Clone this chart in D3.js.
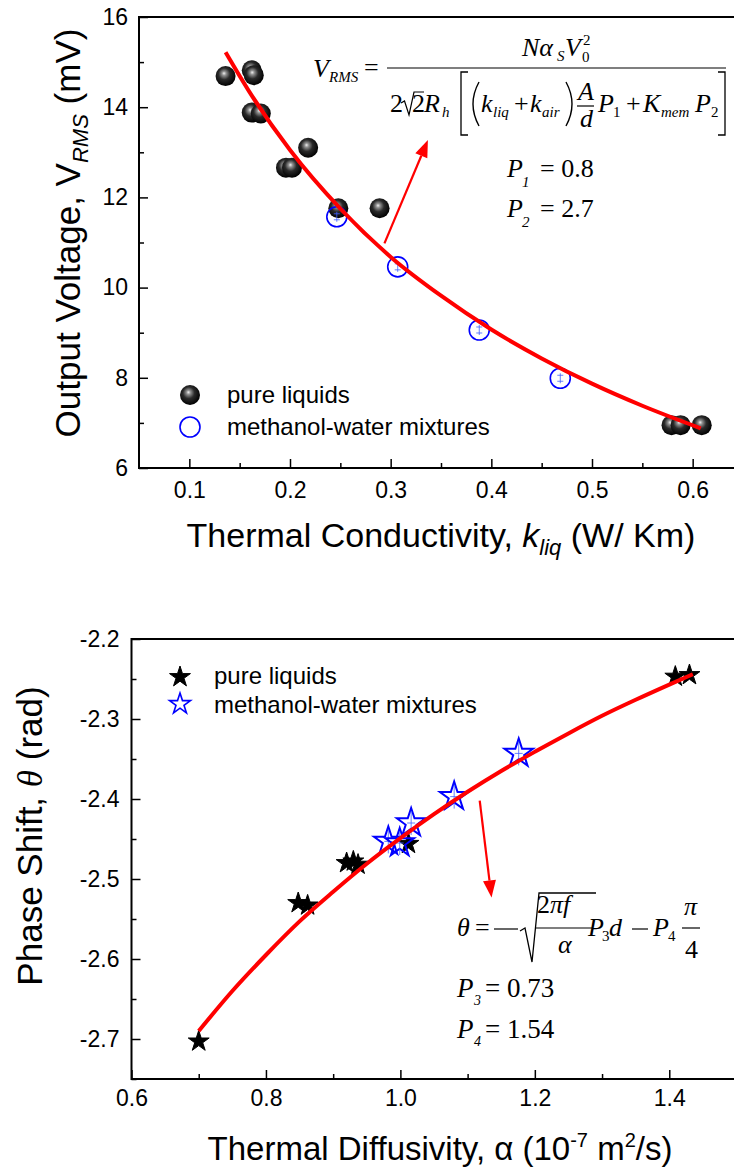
<!DOCTYPE html>
<html>
<head>
<meta charset="utf-8">
<script src="https://cdnjs.cloudflare.com/ajax/libs/d3/7.8.5/d3.min.js"></script>
<style>
  html, body { margin: 0; padding: 0; background: #fff; }
  svg { display: block; }
  .axisTitle { font-family: "Liberation Sans", Arial, sans-serif; fill: #000; }
  .legendText { font-family: "Liberation Sans", Arial, sans-serif; fill: #000; font-size: 24px; }
  .eq { font-family: "Liberation Serif", "Times New Roman", serif; fill: #000; }
</style>
</head>
<body>
<div id="chart"></div>
<script>
// ---- top panel: output voltage vs thermal conductivity ----
const pureK = [0.136, 0.162, 0.164, 0.162, 0.171, 0.196, 0.202, 0.218, 0.248, 0.289, 0.579, 0.588, 0.609];
const pureV = [14.69, 14.82, 14.71, 13.88, 13.86, 12.66, 12.66, 13.10, 11.76, 11.76, 6.95, 6.95, 6.95];
const mixK = [0.2465, 0.307, 0.388, 0.4685];
const mixV = [11.57, 10.46, 9.06, 7.99];
const fitK = [0.136, 0.16, 0.2, 0.25, 0.3, 0.35, 0.4, 0.45, 0.5, 0.55, 0.608];
const fitV = [15.22, 14.33, 13.05, 11.75, 10.68, 9.82, 9.07, 8.43, 7.87, 7.38, 6.88];
const kTicks = [0.1, 0.2, 0.3, 0.4, 0.5, 0.6];
const kMinor = [0.15, 0.25, 0.35, 0.45, 0.55];
const vTicks = [6, 8, 10, 12, 14, 16];
const vMinor = [7, 9, 11, 13, 15];
const arrowTop = [[0.2938, 10.98], [0.337, 13.27]];

// ---- bottom panel: phase shift vs thermal diffusivity ----
const pureA = [0.70, 0.848, 0.862, 0.920, 0.930, 0.937, 1.012, 1.409, 1.430];
const pureT = [-2.703, -2.530, -2.533, -2.480, -2.478, -2.482, -2.456, -2.247, -2.245];
const mixA = [0.982, 0.999, 1.016, 1.080, 1.176];
const mixT = [-2.453, -2.455, -2.430, -2.397, -2.343];
const fitA = [0.70, 0.75, 0.80, 0.85, 0.90, 0.95, 1.00, 1.05, 1.10, 1.15, 1.20, 1.25, 1.30, 1.35, 1.40, 1.435];
const fitT = [-2.690, -2.640, -2.595, -2.553, -2.516, -2.481, -2.449, -2.419, -2.391, -2.365, -2.341, -2.318, -2.296, -2.276, -2.257, -2.244];
const aTicks = [0.6, 0.8, 1.0, 1.2, 1.4];
const aMinor = [0.7, 0.9, 1.1, 1.3, 1.5];
const tTicks = [-2.7, -2.6, -2.5, -2.4, -2.3, -2.2];
const tMinor = [-2.75, -2.65, -2.55, -2.45, -2.35, -2.25];
const arrowBottom = [[1.118, -2.402], [1.1356, -2.523]];

const W = 734, H = 1169;
const SANS = 'Liberation Sans, Arial, sans-serif';

const svg = d3.select('#chart').append('svg')
    .attr('width', W)
    .attr('height', H);

// sphere look for the pure-liquid balls
const grad = svg.append('defs').append('radialGradient')
    .attr('id', 'ball')
    .attr('cx', 0.45).attr('cy', 0.42).attr('r', 0.58)
    .attr('fx', 0.42).attr('fy', 0.36);
grad.append('stop').attr('offset', '0%').attr('stop-color', '#f0f0f0');
grad.append('stop').attr('offset', '18%').attr('stop-color', '#909090');
grad.append('stop').attr('offset', '50%').attr('stop-color', '#2a2a2a');
grad.append('stop').attr('offset', '100%').attr('stop-color', '#000');

// scales
const x1 = d3.scaleLinear().domain([0.05, 0.65]).range([139, 743]);
const y1 = d3.scaleLinear().domain([6, 16]).range([468, 17]);
const x2 = d3.scaleLinear().domain([0.6, 1.5]).range([131.5, 736.5]);
const y2 = d3.scaleLinear().domain([-2.75, -2.2]).range([1079, 639]);

function drawAxes(x, y, o) {
    const g = svg.append('g');
    const bottom = y.range()[0], left = x.range()[0];

    const xa = g.append('g').attr('transform', `translate(0,${bottom})`)
        .call(d3.axisBottom(x).tickValues(o.xMajor).tickSize(-9).tickPadding(o.xPad)
            .tickFormat(d => d.toFixed(1)));
    xa.select('.domain').remove();
    xa.attr('font-size', o.xFont).attr('font-family', SANS);

    g.append('g').attr('transform', `translate(0,${bottom})`)
        .call(d3.axisBottom(x).tickValues(o.xMinor).tickSize(-5).tickFormat(''))
        .select('.domain').remove();

    const ya = g.append('g').attr('transform', `translate(${left},0)`)
        .call(d3.axisLeft(y).tickValues(o.yMajor).tickSize(-9).tickPadding(o.yPad)
            .tickFormat(o.yFmt));
    ya.select('.domain').remove();
    ya.attr('font-size', o.yFont).attr('font-family', SANS);

    g.append('g').attr('transform', `translate(${left},0)`)
        .call(d3.axisLeft(y).tickValues(o.yMinor).tickSize(-5).tickFormat(''))
        .select('.domain').remove();

    g.selectAll('.tick line').attr('stroke-width', 1.5);
    g.selectAll('.tick text').attr('fill', '#000');

    // frame
    const [x0, xr] = x.range(), [yb, yt] = y.range();
    g.append('rect')
        .attr('x', x0).attr('y', yt)
        .attr('width', xr - x0).attr('height', yb - yt)
        .attr('fill', 'none').attr('stroke', '#000').attr('stroke-width', 2);
}

drawAxes(x1, y1, {xMajor: kTicks, xMinor: kMinor, yMajor: vTicks, yMinor: vMinor,
    xPad: 14, yPad: 11, xFont: 23, yFont: 23, yFmt: d => d});
drawAxes(x2, y2, {xMajor: aTicks, xMinor: aMinor, yMajor: tTicks, yMinor: tMinor,
    xPad: 11, yPad: 12, xFont: 23, yFont: 23, yFmt: d => d.toFixed(1)});

// ---- markers ----
function ball(g, cx, cy, r) {
    g.append('circle').attr('cx', cx).attr('cy', cy).attr('r', r).attr('fill', 'url(#ball)');
}
function openCircle(g, cx, cy, r, bars) {
    g.append('circle').attr('cx', cx).attr('cy', cy).attr('r', r)
        .attr('fill', 'none').attr('stroke', '#0000ff').attr('stroke-width', 1.6);
    if (bars) {
        g.append('path')
            .attr('d', `M${cx},${cy - 5}V${cy + 5}M${cx - 3},${cy - 3}h6M${cx - 3},${cy + 3}h6`)
            .attr('stroke', '#4060ff').attr('stroke-width', 0.8).attr('fill', 'none');
    }
}
const starPath = r => d3.symbol(d3.symbolStar, r * r / 0.8908130915292852)();
function star(g, cx, cy, r, filled) {
    g.append('path').attr('d', starPath(r))
        .attr('transform', `translate(${cx},${cy})`)
        .attr('fill', filled ? '#000' : 'none')
        .attr('stroke', filled ? '#000' : '#0000ff')
        .attr('stroke-width', filled ? 1 : 2)
        .attr('stroke-linejoin', 'miter');
    if (!filled) {
        g.append('path')
            .attr('d', `M${cx},${cy - r + 3}V${cy + r - 3}M${cx - 4},${cy}h8`)
            .attr('stroke', '#4060ff').attr('stroke-width', 0.8);
    }
}

const topG = svg.append('g');
pureK.forEach((k, i) => ball(topG, x1(k), y1(pureV[i]), 10));
mixK.forEach((k, i) => openCircle(topG, x1(k), y1(mixV[i]), 10, true));

const botG = svg.append('g');
pureA.forEach((a, i) => star(botG, x2(a), y2(pureT[i]), 11, true));
mixA.forEach((a, i) => star(botG, x2(a), y2(mixT[i]), 15, false));

// ---- fitted curves ----
const fitLine = (x, y) => d3.line().x(d => x(d[0])).y(d => y(d[1])).curve(d3.curveMonotoneX);
svg.append('path').datum(d3.zip(fitK, fitV))
    .attr('d', fitLine(x1, y1))
    .attr('fill', 'none').attr('stroke', '#ff0000').attr('stroke-width', 4);
svg.append('path').datum(d3.zip(fitA, fitT))
    .attr('d', fitLine(x2, y2))
    .attr('fill', 'none').attr('stroke', '#ff0000').attr('stroke-width', 4);

// ---- arrows ----
function arrow(x, y, pts) {
    const [sx, sy] = [x(pts[0][0]), y(pts[0][1])];
    const [ex, ey] = [x(pts[1][0]), y(pts[1][1])];
    const ang = Math.atan2(ey - sy, ex - sx), len = 17, hw = 6.5;
    const bx = ex - len * Math.cos(ang), by = ey - len * Math.sin(ang);
    svg.append('line')
        .attr('x1', sx).attr('y1', sy).attr('x2', bx).attr('y2', by)
        .attr('stroke', '#ff0000').attr('stroke-width', 2.2);
    svg.append('path')
        .attr('d', `M${ex},${ey}L${bx + hw * Math.sin(ang)},${by - hw * Math.cos(ang)}` +
            `L${bx - hw * Math.sin(ang)},${by + hw * Math.cos(ang)}Z`)
        .attr('fill', '#ff0000');
}
arrow(x1, y1, arrowTop);
arrow(x2, y2, arrowBottom);

// ---- legends ----
ball(svg, 190, 395, 10);
openCircle(svg, 190, 427, 10, false);
svg.append('text').attr('class', 'legendText').attr('x', 227).attr('y', 403).text('pure liquids');
svg.append('text').attr('class', 'legendText').attr('x', 227).attr('y', 435).text('methanol-water mixtures');

star(svg, 180, 677, 11, true);
svg.append('path').attr('d', starPath(11)).attr('transform', 'translate(180,704)')
    .attr('fill', 'none').attr('stroke', '#0000ff').attr('stroke-width', 1.6);
svg.append('text').attr('class', 'legendText').attr('x', 214).attr('y', 684).text('pure liquids');
svg.append('text').attr('class', 'legendText').attr('x', 214).attr('y', 713).text('methanol-water mixtures');

// ---- axis titles ----
const tx1 = svg.append('text').attr('class', 'axisTitle')
    .attr('x', 441).attr('y', 547).attr('text-anchor', 'middle').attr('font-size', 34);
tx1.append('tspan').text('Thermal Conductivity, ');
tx1.append('tspan').attr('font-style', 'italic').text('k');
tx1.append('tspan').attr('font-style', 'italic').attr('font-size', 22).attr('dy', 8).text('liq');
tx1.append('tspan').attr('dy', -8).text(' (W/ Km)');

const ty1 = svg.append('text').attr('class', 'axisTitle')
    .attr('transform', 'translate(80,233) rotate(-90)')
    .attr('text-anchor', 'middle').attr('font-size', 35);
ty1.append('tspan').text('Output Voltage,  V');
ty1.append('tspan').attr('font-style', 'italic').attr('font-size', 22).attr('dy', 8).text('RMS');
ty1.append('tspan').attr('dy', -8).text(' (mV)');

const tx2 = svg.append('text').attr('class', 'axisTitle')
    .attr('x', 440).attr('y', 1160).attr('text-anchor', 'middle').attr('font-size', 33);
tx2.append('tspan').text('Thermal Diffusivity, \u03b1 (10');
tx2.append('tspan').attr('font-size', 20).attr('dy', -13).text('-7');
tx2.append('tspan').attr('dy', 13).text(' m');
tx2.append('tspan').attr('font-size', 20).attr('dy', -13).text('2');
tx2.append('tspan').attr('dy', 13).text('/s)');

const ty2 = svg.append('text').attr('class', 'axisTitle')
    .attr('transform', 'translate(42,836) rotate(-90)')
    .attr('text-anchor', 'middle').attr('font-size', 35);
ty2.append('tspan').text('Phase Shift,  ');
ty2.append('tspan').attr('font-family', 'Liberation Serif, serif').attr('font-style', 'italic').text('\u03b8');
ty2.append('tspan').text(' (rad)');

// ---- equations ----
function eq(x, y, str, size, italic) {
    return svg.append('text').attr('class', 'eq')
        .attr('x', x).attr('y', y).attr('font-size', size || 26)
        .attr('font-style', italic ? 'italic' : 'normal').text(str);
}
function stroke(d, w) {
    svg.append('path').attr('d', d).attr('fill', 'none')
        .attr('stroke', '#000').attr('stroke-width', w || 1.2);
}

// V_RMS = N a_S V0^2 / (2 sqrt2 R_h [ (k_liq + k_air) A/d P1 + K_mem P2 ])
eq(313, 77, 'V', 26, true);
eq(329, 82, 'RMS', 15, true);
eq(364, 76, '=');
stroke('M387,68H726');
eq(522, 56, 'N\u03b1', 26, true);
eq(557, 61, 'S', 15, true);
eq(565, 56, 'V', 26, true);
eq(583, 45, '2', 15);
eq(582, 62, '0', 15);
eq(390, 112, '2');
stroke('M401,103L404.5,101L409,115L414,92H424');
eq(412, 112, '2');
eq(424, 112, 'R', 26, true);
eq(442, 117, 'h', 15, true);
stroke('M468,72H461V135H468', 1.3);
stroke('M479,82Q467,104 479,126', 1.4);
eq(481, 112, 'k', 26, true);
eq(493, 117, 'liq', 15, true);
eq(514, 112, '+');
eq(530, 112, 'k', 26, true);
eq(542, 117, 'air', 15, true);
stroke('M566,82Q578,104 566,126', 1.4);
eq(578, 100, 'A', 26, true);
stroke('M577,106H594');
eq(580, 127, 'd', 26, true);
eq(598, 112, 'P', 26, true);
eq(613, 117, '1', 15);
eq(626, 112, '+');
eq(643, 112, 'K', 26, true);
eq(661, 117, 'mem', 15, true);
eq(695, 112, 'P', 26, true);
eq(711, 117, '2', 15);
stroke('M718,72H725V135H718', 1.3);

eq(507, 177, 'P', 26, true);
eq(522, 187, '1', 15, true);
eq(540, 177, '= 0.8');
eq(507, 217, 'P', 26, true);
eq(522, 227, '2', 15, true);
eq(540, 217, '= 2.7');

// theta = - sqrt(2 pi f / alpha) P3 d - P4 pi/4
eq(457, 936, '\u03b8', 26, true);
eq(475, 936, '=');
stroke('M494,929H518');
stroke('M520,931L525,928L532,962L539,893H596', 1.3);
const num = eq(537, 913, '2');
num.append('tspan').attr('font-style', 'italic').text('\u03c0f');
stroke('M536,928H593');
eq(558, 953, '\u03b1', 26, true);
eq(588, 936, 'P', 26, true);
eq(602, 941, '3', 15);
eq(609, 936, 'd', 26, true);
stroke('M632,929H648');
eq(653, 936, 'P', 26, true);
eq(668, 941, '4', 15);
eq(684, 915, '\u03c0', 26, true);
stroke('M682,928H700');
eq(685, 958, '4');

eq(457, 997, 'P', 27, true);
eq(474, 1005, '3', 14, true);
eq(485, 997, '= 0.73', 27);
eq(457, 1038, 'P', 27, true);
eq(474, 1046, '4', 14, true);
eq(485, 1038, '= 1.54', 27);
</script>
</body>
</html>
